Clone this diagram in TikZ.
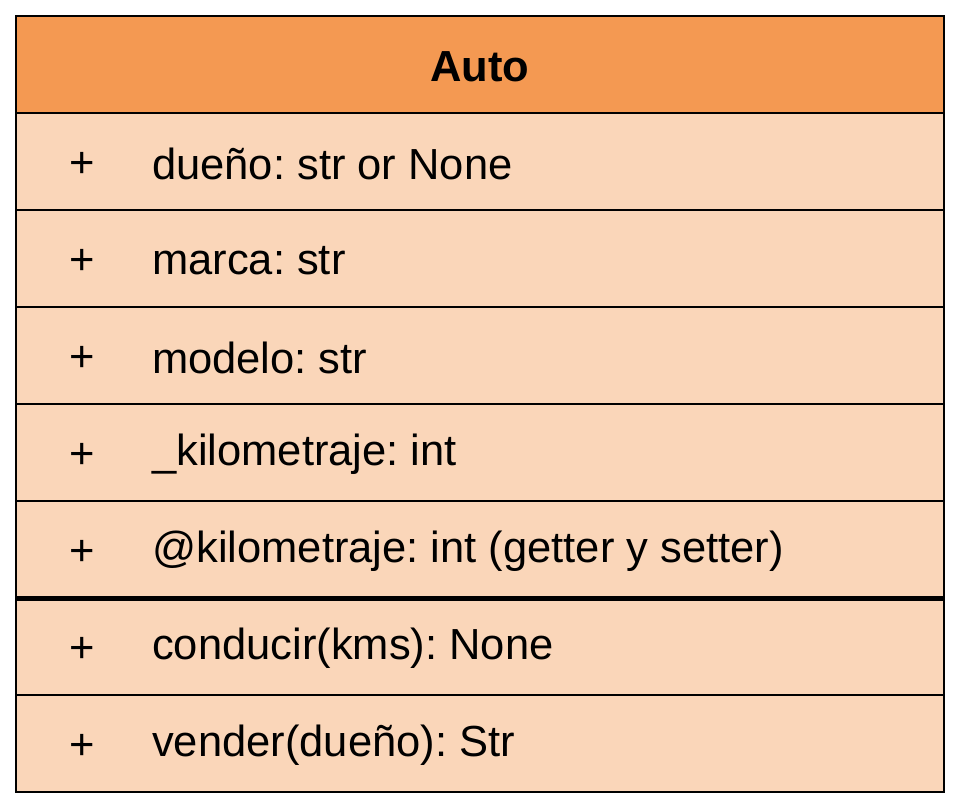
\documentclass[tikz,border=0pt]{standalone}
\usepackage{fontspec}
\setmainfont{Liberation Sans}
\usetikzlibrary{positioning}
\frenchspacing

\definecolor{autoorange}{HTML}{F49952}
\definecolor{autopeach}{HTML}{FAD6B9}

\tikzstyle{header} = [rectangle, draw, line width=1.5pt, fill=autoorange, outer sep=0pt,
    minimum width=928pt, minimum height=97pt, font=\fontsize{43.5}{50}\selectfont\bfseries]
\tikzstyle{member} = [rectangle, draw, line width=1.5pt, fill=autopeach, outer sep=0pt,
    minimum width=928pt, minimum height=97pt]
\tikzstyle{vis} = [inner sep=0pt, anchor=center, yshift=-3pt]
\tikzstyle{label} = [inner sep=0pt, anchor=west, yshift=-2pt]

\begin{document}
\begin{tikzpicture}[x=1pt, y=1pt, font=\fontsize{43.5}{50}\selectfont]
    \useasboundingbox (0,0) rectangle (960,-810);
    % Place nodes
    \node [header, anchor=north west] (auto) at (16,-16) {};
    \node [member, below=0pt of auto] (duenio) {};
    \node [member, below=0pt of duenio] (marca) {};
    \node [member, below=0pt of marca] (modelo) {};
    \node [member, below=0pt of modelo] (kmattr) {};
    \node [member, below=0pt of kmattr] (kmprop) {};
    \node [member, below=0pt of kmprop] (conducir) {};
    \node [member, below=0pt of conducir] (vender) {};

    % Texts
    \node [inner sep=0pt, yshift=-2pt, font=\fontsize{43.5}{50}\selectfont\bfseries] (title) at (auto) {Auto};
    \node [vis] at ([xshift=66pt] duenio.west) {+};
    \node [label] at ([xshift=136pt] duenio.west) {dueño: str or None};
    \node [vis] at ([xshift=66pt] marca.west) {+};
    \node [label] at ([xshift=136pt] marca.west) {marca: str};
    \node [vis] at ([xshift=66pt] modelo.west) {+};
    \node [label] at ([xshift=136pt] modelo.west) {modelo: str};
    \node [vis] at ([xshift=66pt] kmattr.west) {+};
    \node [label] at ([xshift=136pt] kmattr.west) {\_kilometraje: int};
    \node [vis] at ([xshift=66pt] kmprop.west) {+};
    \node [label] at ([xshift=136pt] kmprop.west) {@kilometraje: int (getter y setter)};
    \node [vis] at ([xshift=66pt] conducir.west) {+};
    \node [label] at ([xshift=136pt] conducir.west) {conducir(kms): None};
    \node [vis] at ([xshift=66pt] vender.west) {+};
    \node [label] at ([xshift=136pt] vender.west) {vender(dueño): Str};

    % attributes / methods separator
    \draw [line width=5pt] (kmprop.south west) -- (kmprop.south east);
\end{tikzpicture}
\end{document}
